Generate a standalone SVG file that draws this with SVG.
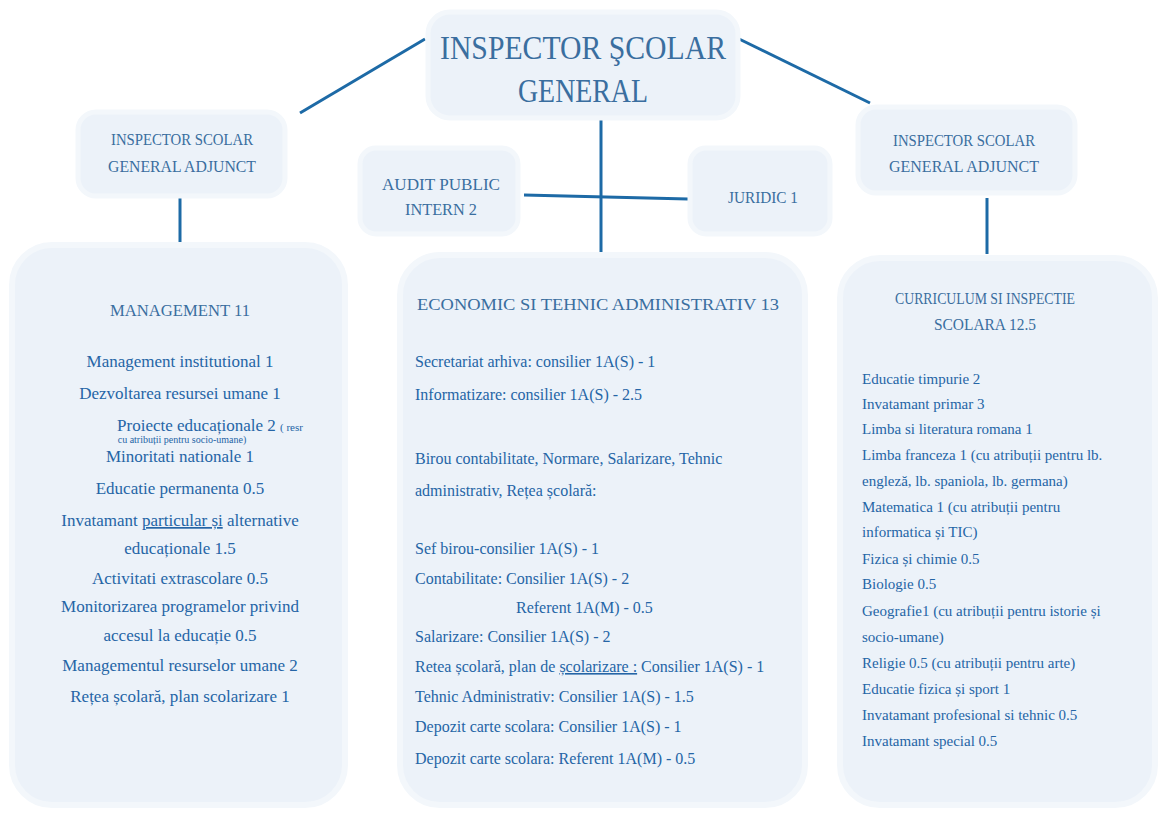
<svg xmlns="http://www.w3.org/2000/svg" width="1161" height="815" viewBox="0 0 1161 815">
<rect width="1161" height="815" fill="#ffffff"/>
<g id="connectors" stroke="#1d6aa6" stroke-width="3" fill="none">
<line x1="300" y1="113" x2="425" y2="39"/>
<line x1="735" y1="37" x2="870" y2="103"/>
<line x1="601" y1="120" x2="601" y2="264"/>
<line x1="524" y1="195" x2="688" y2="199"/>
<line x1="180" y1="196" x2="180" y2="249"/>
<line x1="987" y1="198" x2="987" y2="254"/>
</g>
<g id="isg" font-family="Liberation Serif" fill="#3a6e9f" text-anchor="middle">
<rect fill="#ecf2f9" stroke="#f3f7fb" stroke-width="5" x="428" y="12" width="310" height="106" rx="22"/>
<text font-family="Liberation Serif" x="583" y="59" font-size="33" textLength="286" lengthAdjust="spacingAndGlyphs">INSPECTOR ŞCOLAR</text>
<text font-family="Liberation Serif" x="583" y="102" font-size="33" textLength="130" lengthAdjust="spacingAndGlyphs">GENERAL</text>
</g>
<g id="isga-left" font-family="Liberation Serif" fill="#3a6e9f" text-anchor="middle">
<rect fill="#ecf2f9" stroke="#f3f7fb" stroke-width="5" x="78" y="112" width="207" height="84" rx="18"/>
<text font-family="Liberation Serif" x="182" y="145" font-size="17" textLength="142" lengthAdjust="spacingAndGlyphs">INSPECTOR SCOLAR</text>
<text font-family="Liberation Serif" x="182" y="172" font-size="17" textLength="148" lengthAdjust="spacingAndGlyphs">GENERAL ADJUNCT</text>
</g>
<g id="isga-right" font-family="Liberation Serif" fill="#3a6e9f" text-anchor="middle">
<rect fill="#ecf2f9" stroke="#f3f7fb" stroke-width="5" x="858" y="107" width="217" height="86" rx="18"/>
<text font-family="Liberation Serif" x="964" y="146" font-size="17" textLength="142" lengthAdjust="spacingAndGlyphs">INSPECTOR SCOLAR</text>
<text font-family="Liberation Serif" x="964" y="172" font-size="17" textLength="150" lengthAdjust="spacingAndGlyphs">GENERAL ADJUNCT</text>
</g>
<g id="audit" font-family="Liberation Serif" fill="#3a6e9f" text-anchor="middle">
<rect fill="#ecf2f9" stroke="#f3f7fb" stroke-width="5" x="360" y="148" width="158" height="86" rx="16"/>
<text font-family="Liberation Serif" x="441" y="190" font-size="16" textLength="118" lengthAdjust="spacingAndGlyphs">AUDIT PUBLIC</text>
<text font-family="Liberation Serif" x="441" y="215" font-size="16" textLength="72" lengthAdjust="spacingAndGlyphs">INTERN 2</text>
</g>
<g id="juridic" font-family="Liberation Serif" fill="#3a6e9f" text-anchor="middle">
<rect fill="#ecf2f9" stroke="#f3f7fb" stroke-width="5" x="690" y="148" width="140" height="86" rx="16"/>
<text font-family="Liberation Serif" x="763" y="203" font-size="16" textLength="70" lengthAdjust="spacingAndGlyphs">JURIDIC 1</text>
</g>
<g id="management" font-family="Liberation Serif">
<rect fill="#ecf2f9" stroke="#f3f7fb" stroke-width="6" x="12" y="245" width="333" height="560" rx="40"/>
<g fill="#2565a6" text-anchor="middle" font-size="17">
<text font-family="Liberation Serif" fill="#3a6e9f" x="180" y="316" textLength="140" lengthAdjust="spacingAndGlyphs">MANAGEMENT 11</text>
<text font-family="Liberation Serif" x="180" y="367">Management institutional 1</text>
<text font-family="Liberation Serif" x="180" y="399">Dezvoltarea resursei umane 1</text>
<text font-family="Liberation Serif" x="210" y="431">Proiecte educaționale 2 <tspan font-size="11">( resr</tspan></text>
<text font-family="Liberation Serif" x="182" y="443" font-size="10">cu atribuții pentru socio-umane)</text>
<text font-family="Liberation Serif" x="180" y="462">Minoritati nationale 1</text>
<text font-family="Liberation Serif" x="180" y="494">Educatie permanenta 0.5</text>
<text font-family="Liberation Serif" x="180" y="526">Invatamant <tspan text-decoration="underline">particular și</tspan> alternative</text>
<text font-family="Liberation Serif" x="180" y="554">educaționale 1.5</text>
<text font-family="Liberation Serif" x="180" y="584">Activitati extrascolare 0.5</text>
<text font-family="Liberation Serif" x="180" y="612">Monitorizarea programelor privind</text>
<text font-family="Liberation Serif" x="180" y="641">accesul la educație 0.5</text>
<text font-family="Liberation Serif" x="180" y="671">Managementul resurselor umane 2</text>
<text font-family="Liberation Serif" x="180" y="702">Rețea școlară, plan scolarizare 1</text>
</g>
</g>
<g id="economic" font-family="Liberation Serif">
<rect fill="#ecf2f9" stroke="#f3f7fb" stroke-width="6" x="400" y="255" width="405" height="550" rx="40"/>
<text font-family="Liberation Serif" fill="#3a6e9f" text-anchor="middle" x="598" y="310" font-size="16" textLength="362" lengthAdjust="spacingAndGlyphs">ECONOMIC SI TEHNIC ADMINISTRATIV 13</text>
<g fill="#2565a6" font-size="16">
<text font-family="Liberation Serif" x="415" y="367">Secretariat arhiva: consilier 1A(S) - 1</text>
<text font-family="Liberation Serif" x="415" y="400">Informatizare: consilier 1A(S) - 2.5</text>
<text font-family="Liberation Serif" x="415" y="464">Birou contabilitate, Normare, Salarizare, Tehnic</text>
<text font-family="Liberation Serif" x="415" y="496">administrativ, Rețea școlară:</text>
<text font-family="Liberation Serif" x="415" y="554">Sef birou-consilier 1A(S) - 1</text>
<text font-family="Liberation Serif" x="415" y="584">Contabilitate: Consilier 1A(S) - 2</text>
<text font-family="Liberation Serif" x="516" y="613">Referent 1A(M) - 0.5</text>
<text font-family="Liberation Serif" x="415" y="642">Salarizare: Consilier 1A(S) - 2</text>
<text font-family="Liberation Serif" x="415" y="672">Retea școlară, plan de <tspan text-decoration="underline">școlarizare :</tspan> Consilier 1A(S) - 1</text>
<text font-family="Liberation Serif" x="415" y="702">Tehnic Administrativ: Consilier 1A(S) - 1.5</text>
<text font-family="Liberation Serif" x="415" y="732">Depozit carte scolara: Consilier 1A(S) - 1</text>
<text font-family="Liberation Serif" x="415" y="764">Depozit carte scolara: Referent 1A(M) - 0.5</text>
</g>
</g>
<g id="curriculum" font-family="Liberation Serif">
<rect fill="#ecf2f9" stroke="#f3f7fb" stroke-width="6" x="840" y="258" width="315" height="547" rx="40"/>
<text font-family="Liberation Serif" fill="#3a6e9f" text-anchor="middle" x="985" y="304" font-size="16" textLength="180" lengthAdjust="spacingAndGlyphs">CURRICULUM SI INSPECTIE</text>
<text font-family="Liberation Serif" fill="#3a6e9f" text-anchor="middle" x="985" y="330" font-size="16" textLength="102" lengthAdjust="spacingAndGlyphs">SCOLARA 12.5</text>
<g fill="#2565a6" font-size="15">
<text font-family="Liberation Serif" x="862" y="384">Educatie timpurie 2</text>
<text font-family="Liberation Serif" x="862" y="409">Invatamant primar 3</text>
<text font-family="Liberation Serif" x="862" y="434">Limba si literatura romana 1</text>
<text font-family="Liberation Serif" x="862" y="460">Limba franceza 1 (cu atribuții pentru lb.</text>
<text font-family="Liberation Serif" x="862" y="486">engleză, lb. spaniola, lb. germana)</text>
<text font-family="Liberation Serif" x="862" y="512">Matematica 1 (cu atribuții pentru</text>
<text font-family="Liberation Serif" x="862" y="537">informatica și TIC)</text>
<text font-family="Liberation Serif" x="862" y="564">Fizica și chimie 0.5</text>
<text font-family="Liberation Serif" x="862" y="589">Biologie 0.5</text>
<text font-family="Liberation Serif" x="862" y="616">Geografie1 (cu atribuții pentru istorie și</text>
<text font-family="Liberation Serif" x="862" y="642">socio-umane)</text>
<text font-family="Liberation Serif" x="862" y="668">Religie 0.5 (cu atribuții pentru arte)</text>
<text font-family="Liberation Serif" x="862" y="694">Educatie fizica și sport 1</text>
<text font-family="Liberation Serif" x="862" y="720">Invatamant profesional si tehnic 0.5</text>
<text font-family="Liberation Serif" x="862" y="746">Invatamant special 0.5</text>
</g>
</g>
</svg>
